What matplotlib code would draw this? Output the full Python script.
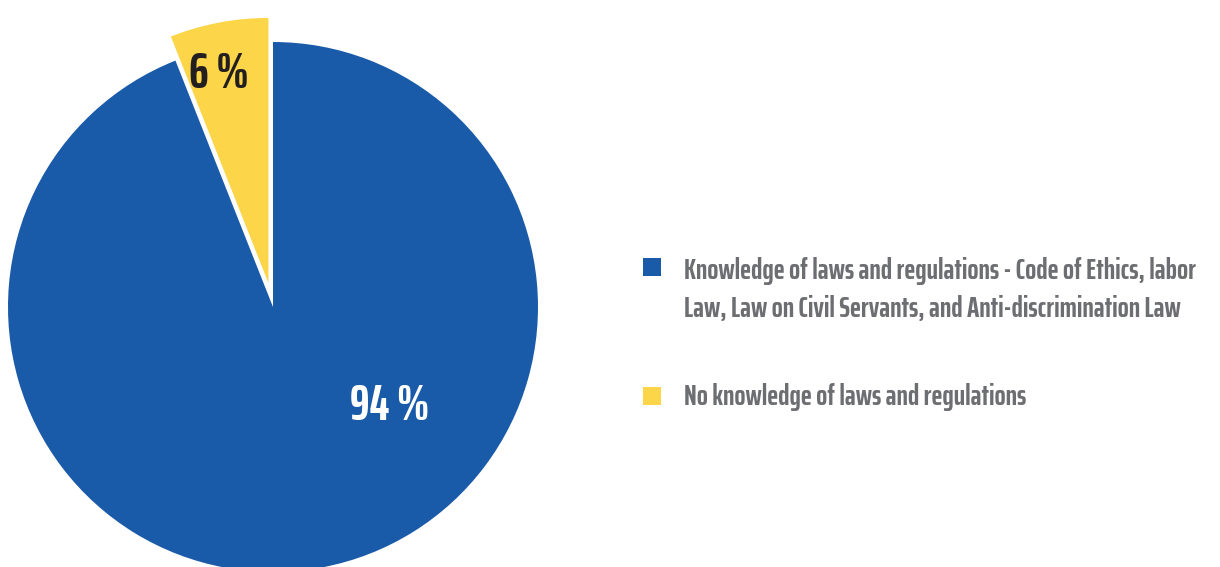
import matplotlib.pyplot as plt
from matplotlib import font_manager
from matplotlib.patches import Rectangle

labels = [
    "Knowledge of laws and regulations - Code of Ethics, labor\nLaw, Law on Civil Servants, and Anti-discrimination Law",
    "No knowledge of laws and regulations",
]
shares = [94, 6]
colors = ["#1A5BA9", "#FDD548"]
label_colors = ["white", "#231F20"]

# condensed face, with plain fallbacks
available = {f.name for f in font_manager.fontManager.ttflist}
FONT = [f for f in ["Saira ExtraCondensed", "Oswald", "Roboto Condensed"] if f in available][:1] + ["DejaVu Sans"]

W, H = 1220, 567

fig = plt.figure(figsize=(W / 100, H / 100), dpi=100)
ax = fig.add_axes([0, 0, 1, 1])

# small slice sits just left of 12 o'clock and is pulled out a little
wedges, _ = ax.pie(
    [shares[1], shares[0]],
    colors=[colors[1], colors[0]],
    startangle=90,
    counterclock=True,
    radius=265,
    center=(273, H - 307),
    explode=[24.5, 0],
    frame=True,
)
ax.set_xlim(0, W)
ax.set_ylim(0, H)
ax.set_aspect("equal")
ax.axis("off")

# percentage labels
ax.text(390, H - 420, f"{shares[0]} %", color=label_colors[0], fontsize=36,
        fontweight="bold", family=FONT, ha="center", va="baseline")
ax.text(219, H - 88, f"{shares[1]} %", color=label_colors[1], fontsize=36,
        fontweight="bold", family=FONT, ha="center", va="baseline")

# legend on the right
box_y = [267, 396]
text_base = [317, 405]
for lab, col, by, ty in zip(labels, colors, box_y, text_base):
    ax.add_patch(Rectangle((643, H - by - 9), 18, 18, color=col, lw=0))
    ax.text(684, H - ty, lab, color="#6D6E71", fontsize=21,
            fontweight="bold", family=FONT, ha="left", va="baseline",
            linespacing=1.45)

fig.savefig("out.png", dpi=100)
